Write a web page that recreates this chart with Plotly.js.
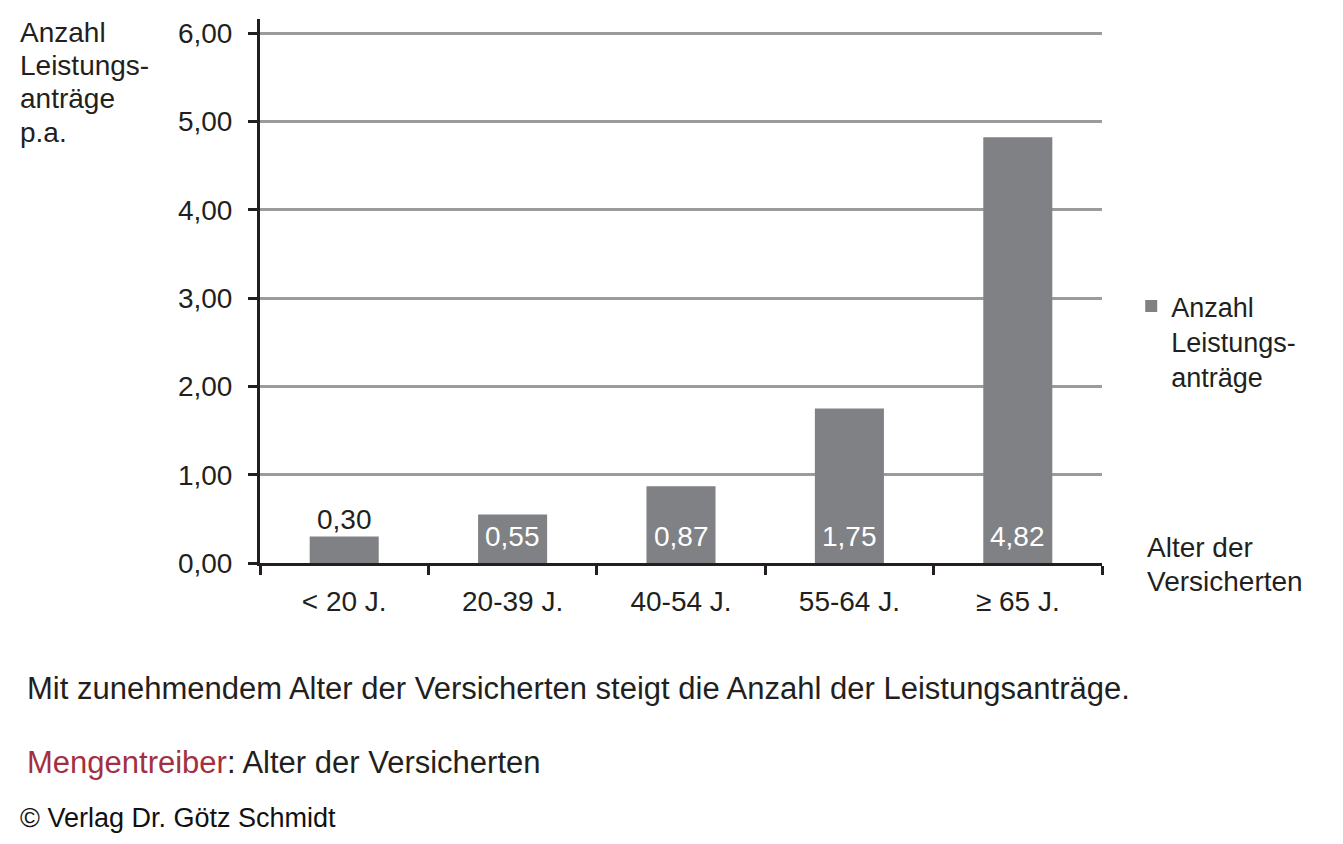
<!DOCTYPE html>
<html><head><meta charset="utf-8">
<script src="https://cdn.plot.ly/plotly-3.0.1.min.js"></script>
<style>html,body{margin:0;padding:0;background:#fff}#chart{width:1343px;height:844px}</style>
</head><body><div id="chart"></div>
<script>
const categories = ['< 20 J.', '20-39 J.', '40-54 J.', '55-64 J.', '≥ 65 J.'];
const values = [0.30, 0.55, 0.87, 1.75, 4.82];
const seriesName = 'Anzahl<br>Leistungs-<br>anträge';
const yTickVals = [0, 1, 2, 3, 4, 5, 6];
const yTitleLines = ['Anzahl', 'Leistungs-', 'anträge', 'p.a.'];
const xTitleLines = ['Alter der', 'Versicherten'];
const caption = 'Mit zunehmendem Alter der Versicherten steigt die Anzahl der Leistungsanträge.';
const driverLabel = 'Mengentreiber';
const driverText = ': Alter der Versicherten';
const copyright = '© Verlag Dr. Götz Schmidt';

const FONT = 'Liberation Sans, Arial, sans-serif';
const DARK = '#231f20';
const FS = 28;

const trace = {
  type: 'bar', x: categories, y: values, name: seriesName,
  marker: {color: '#808184'},
  showlegend: true, hoverinfo: 'none'
};

const fmt = v => v.toFixed(2).replace('.', ',');

const annotations = [];
// bar value labels
categories.forEach((c, i) => {
  const v = values[i];
  const fitsInside = v >= 0.4;
  annotations.push({
    xref: 'x', yref: 'y', x: c, y: fitsInside ? 0 : v,
    xanchor: 'center', yanchor: 'bottom', yshift: fitsInside ? 9 : 0,
    text: fmt(v), showarrow: false,
    font: {family: FONT, size: FS, color: fitsInside ? '#ffffff' : DARK}
  });
});
// y-axis title lines
const yTitleY = [0.976, 0.914, 0.853, 0.791];
yTitleLines.forEach((t, i) => annotations.push({
  xref: 'paper', yref: 'paper', x: -0.2874, y: yTitleY[i], xanchor: 'left', yanchor: 'middle',
  text: t, showarrow: false, font: {family: FONT, size: FS, color: DARK}
}));
// x-axis title lines
const xTitleY = [0.0276, -0.0349];
xTitleLines.forEach((t, i) => annotations.push({
  xref: 'paper', yref: 'paper', x: 1.0511, y: xTitleY[i], xanchor: 'left', yanchor: 'middle',
  text: t, showarrow: false, font: {family: FONT, size: FS, color: DARK}
}));
annotations.push(
  {xref: 'paper', yref: 'paper', x: -0.2791, y: -0.2298, xanchor: 'left', yanchor: 'middle',
   text: caption, showarrow: false, font: {family: FONT, size: 31, color: DARK}},
  {xref: 'paper', yref: 'paper', x: -0.2791, y: -0.366, xanchor: 'left', yanchor: 'middle',
   text: '<span style="color:#a3303f">' + driverLabel + '</span>' + driverText, showarrow: false,
   font: {family: FONT, size: 31, color: DARK}},
  {xref: 'paper', yref: 'paper', x: -0.2874, y: -0.469, xanchor: 'left', yanchor: 'middle',
   text: copyright, showarrow: false, font: {family: FONT, size: 27, color: '#111'}}
);

const layout = {
  width: 1343, height: 844,
  margin: {l: 260, r: 241, t: 19, b: 281},
  paper_bgcolor: '#fff', plot_bgcolor: '#fff',
  separators: ',.',
  font: {family: FONT, color: DARK, size: FS},
  bargap: 0.59,
  showlegend: true,
  legend: {x: 1.0347, y: 0.5165, xref: 'paper', xanchor: 'left', yanchor: 'top', valign: 'top',
           font: {family: FONT, size: 27, color: DARK}, bgcolor: 'rgba(0,0,0,0)',
           itemwidth: 30, tracegroupgap: 0},
  xaxis: {
    type: 'category', showline: true, linewidth: 3, linecolor: DARK,
    ticks: 'outside', tickson: 'boundaries', ticklen: 9, tickwidth: 3, tickcolor: DARK,
    showgrid: false, zeroline: false, fixedrange: true,
    tickfont: {family: FONT, size: FS, color: DARK}, ticklabelstandoff: 11
  },
  yaxis: {
    range: [0, 6.16], tickvals: yTickVals, tickformat: '.2f',
    showline: true, linewidth: 3, linecolor: DARK,
    ticks: 'outside', ticklen: 9, tickwidth: 3, tickcolor: DARK,
    showgrid: true, gridcolor: '#9b9b9b', gridwidth: 3, zeroline: false, fixedrange: true,
    tickfont: {family: FONT, size: FS, color: DARK}, ticklabelstandoff: 10
  },
  annotations: annotations
};

Plotly.newPlot('chart', [trace], layout, {displayModeBar: false, staticPlot: true});
</script></body></html>
